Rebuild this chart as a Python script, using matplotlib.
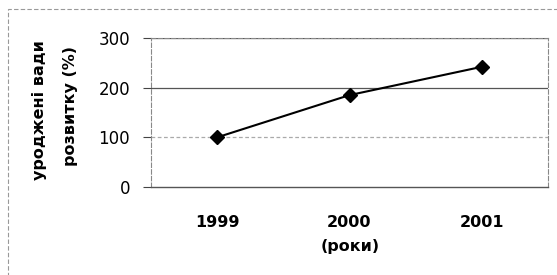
import matplotlib.pyplot as plt
from matplotlib.patches import Rectangle

years = ["1999", "2000", "2001"]
defects = [100, 185, 242]
y_ticks = [0, 100, 200, 300]

plt.rcParams["font.family"] = ["DejaVu Sans"]


def main() -> None:
    fig = plt.figure(figsize=(5.57, 2.75), dpi=100)
    ax = fig.add_axes([151 / 557, 88 / 275, 397 / 557, 149 / 275])

    x = list(range(len(years)))
    ax.plot(x, defects, color="black", linewidth=1.5, marker="D",
            markersize=7, zorder=3)

    ax.set_xlim(-0.5, len(years) - 0.5)
    ax.set_ylim(0, 300)
    ax.set_yticks(y_ticks)
    ax.set_yticklabels([str(v) for v in y_ticks], fontsize=12)
    ax.set_xticks(x)
    ax.set_xticklabels(years, fontsize=11.5, fontweight="bold")
    ax.tick_params(axis="x", length=0, pad=20)
    ax.tick_params(axis="y", length=6, color="#444444", pad=9)

    for v in y_ticks[1:]:
        ax.axhline(v, color="#555555" if v != 100 else "#aaaaaa",
                   linewidth=0.9, linestyle="-" if v != 100 else (0, (3, 2)),
                   zorder=1)

    for side in ["top", "right", "left"]:
        ax.spines[side].set_color("#888888")
        ax.spines[side].set_linestyle((0, (4, 2)))
        ax.spines[side].set_linewidth(0.8)
    ax.spines["bottom"].set_color("#555555")
    ax.spines["bottom"].set_linewidth(1.0)

    fig.text(350 / 557, 1 - 246 / 275, "(роки)", ha="center", va="center",
             fontsize=11.5, fontweight="bold")
    fig.text(40 / 557, 1 - 110 / 275, "уроджені вади", ha="center",
             va="center", rotation=90, fontsize=11.5, fontweight="bold")
    fig.text(71 / 557, 1 - 106 / 275, "розвитку (%)", ha="center",
             va="center", rotation=90, fontsize=11.5, fontweight="bold")

    # outer chart frame
    fig.patches.append(Rectangle((8 / 557, -0.02), 1.0, 1 - 9 / 275 + 0.02,
                                 transform=fig.transFigure, fill=False,
                                 edgecolor="#999999", linewidth=0.8,
                                 linestyle=(0, (4, 2))))

    fig.savefig("out.png", dpi=100)


if __name__ == "__main__":
    main()
